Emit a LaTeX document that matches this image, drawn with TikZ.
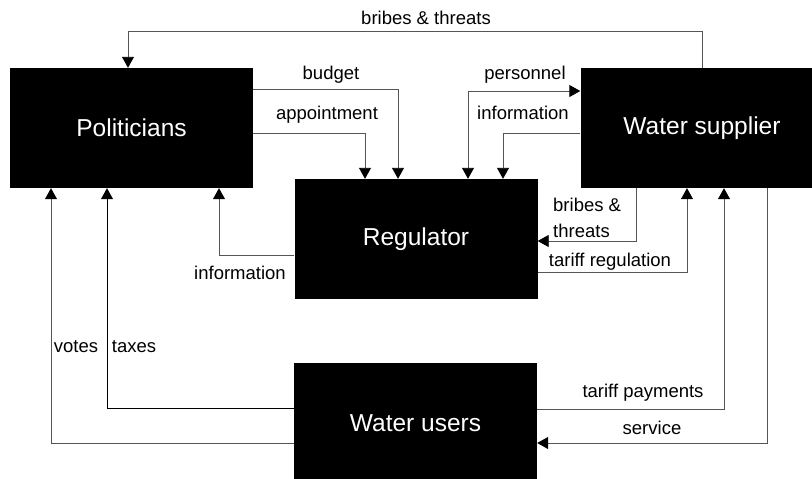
\documentclass[tikz,border=0pt]{standalone}
\usepackage{fontspec}
\setmainfont{Liberation Sans}
\usetikzlibrary{arrows.meta}
\definecolor{linecol}{RGB}{85,85,85}
\begin{document}
\begin{tikzpicture}[x=1pt,y=-1pt,
  actor/.style={draw=none,fill=black,text=white,minimum width=243pt,minimum height=120pt,inner sep=0pt,font=\fontsize{24.5}{28}\selectfont},
  lbl/.style={inner sep=0pt,font=\fontsize{18.5}{26}\selectfont,text=black},
  tip/.tip={Triangle[length=11pt,width=12pt,fill=black,color=black]},
  arr/.style={draw=linecol,line width=0.9pt,-tip},
  dbl/.style={draw=linecol,line width=0.9pt,tip-tip}]
\useasboundingbox (0,0) rectangle (812,479);
\fill[white] (0,0) rectangle (812,479);
% actors
\node[actor] (pol) at (131.5,128) {Politicians};
\node[actor] (reg) at (416,239) {Regulator};
\node[actor] (sup) at (702,128) {Water supplier};
\node[actor] (usr) at (415.5,423) {Water users};
% connectors
\draw[arr] (sup.north) -- (sup.north |- 0,31) -| ([xshift=-3.5pt]pol.north);
\draw[arr] (pol.east |- 0,89) -| (reg.north -| 398,0);
\draw[arr] (pol.east |- 0,133) -| (reg.north -| 365,0);
\draw[dbl] (reg.north -| 468,0) |- (sup.west |- 0,91);
\draw[arr] (sup.west |- 0,133) -| (reg.north -| 503,0);
\draw[arr] (reg.west |- 0,255) -| (pol.south -| 219,0);
\draw[arr] (sup.south -| 636,0) |- (reg.east |- 0,241);
\draw[arr] (reg.east |- 0,272) -| (sup.south -| 687,0);
\draw[arr] (usr.west |- 0,443) -| (pol.south -| 51,0);
\draw[arr,draw=black] (usr.west |- 0,408) -| (pol.south -| 107,0);
\draw[arr] (usr.east |- 0,409) -| (sup.south -| 724,0);
\draw[arr] (sup.south -| 767,0) |- (usr.east |- 0,443);
% labels
\node[lbl] (l1) at (426,18) {bribes \& threats};
\node[lbl] (l2) at (331,75) {budget};
\node[lbl] (l3) at (327,115) {appointment};
\node[lbl] (l4) at (525,75) {personnel};
\node[lbl] (l5) at (523,113) {information};
\node[lbl] (l6) at (240,273) {information};
\node[lbl,align=left,anchor=west] (l7) at (553,218) {bribes \&\\threats};
\node[lbl] (l8) at (610,262) {tariff regulation};
\node[lbl] (l9) at (76,347) {votes};
\node[lbl] (l10) at (134,347) {taxes};
\node[lbl] (l11) at (643,393) {tariff payments};
\node[lbl] (l12) at (652,428) {service};
\end{tikzpicture}
\end{document}
